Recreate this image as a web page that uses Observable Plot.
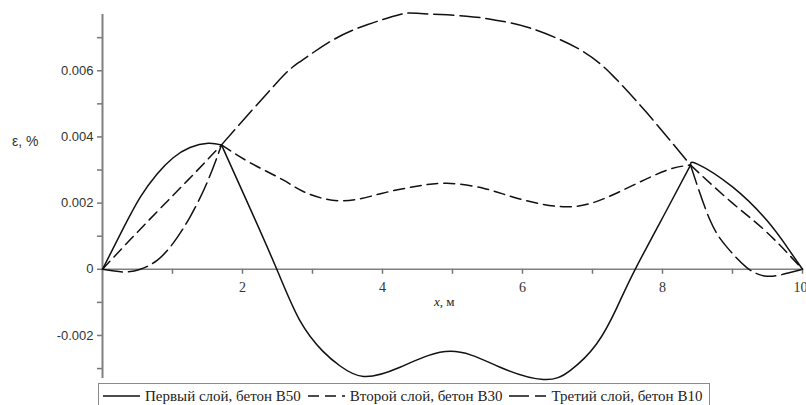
<!DOCTYPE html>
<html>
<head>
<meta charset="utf-8">
<script src="https://cdn.jsdelivr.net/npm/d3@7"></script>
<script src="https://cdn.jsdelivr.net/npm/@observablehq/plot@0.6"></script>
<style>
  html, body { margin: 0; padding: 0; background: #fff; }
  #wrap { position: relative; width: 806px; height: 405px; overflow: hidden; }
  #chart { position: absolute; left: 0; top: 0; }
  .ylab { position: absolute; left: 12px; top: 133px; font: 14px "Liberation Sans", Arial, sans-serif; color: #333; }
  .xlab { position: absolute; left: 434px; top: 294px; font: 13px "Liberation Serif", serif; color: #222; }
  .xlab i { font-style: italic; }
  #legend { position: absolute; left: 98px; top: 383px; width: 612px; height: 26px; border: 1px solid #8a8a8a; box-sizing: border-box;
            display: flex; align-items: center; font-family: "Liberation Serif", "Times New Roman", serif; font-size: 15px; color: #222; white-space: nowrap; }
  #legend .item { display: flex; align-items: center; margin-left: 4px; margin-right: 3px; }
  #legend svg { margin-right: 5px; }
  svg g[aria-label="y-axis tick"] path { stroke: #777; stroke-width: 1.5; }
  svg g[aria-label="y-axis tick label"] text { fill: #333; }
</style>
</head>
<body>
<div id="wrap">
  <div id="chart"></div>
  <div class="ylab">ε, %</div>
  <div class="xlab"><i>x</i>, м</div>
  <div id="legend"></div>
</div>
<script>
// ---- Data ----
const seriesNames = ["Первый слой, бетон B50", "Второй слой, бетон B30", "Третий слой, бетон B10"];

const s1x = [0, 0.3, 0.54, 0.78, 1.01, 1.25, 1.51, 1.7, 2.1, 2.49, 2.82, 3.15, 3.4, 3.73, 4.25, 4.97, 5.68, 6.3, 6.68, 7.06, 7.35, 7.61, 8.07, 8.4, 8.5, 9.0, 9.49, 9.78, 10];
const s1y = [0, 0.00125, 0.00218, 0.00288, 0.00337, 0.00368, 0.00381, 0.00376, 0.00188, 0, -0.00155, -0.00248, -0.00293, -0.00324, -0.00296, -0.00248, -0.00296, -0.00333, -0.00306, -0.00225, -0.00115, 0, 0.00183, 0.00315, 0.00318, 0.00249, 0.00148, 0.00067, 0];

const s2x = [0, 0.3, 0.78, 1.25, 1.7, 2.11, 2.58, 2.92, 3.44, 4.0, 4.49, 4.92, 5.44, 5.92, 6.58, 7.11, 7.59, 8.07, 8.4, 9.0, 9.49, 10];
const s2y = [0, 0.00068, 0.00174, 0.00276, 0.00376, 0.00322, 0.0027, 0.0023, 0.00207, 0.0023, 0.00251, 0.0026, 0.00245, 0.00215, 0.00189, 0.00209, 0.00255, 0.003, 0.00315, 0.002, 0.00112, 0];

const s3x = [0, 0.3, 0.54, 0.78, 1.01, 1.25, 1.49, 1.7, 2.49, 2.82, 3.3, 3.78, 4.25, 4.54, 5.2, 5.64, 6.11, 6.82, 7.3, 7.78, 8.4, 8.68, 8.92, 9.2, 9.49, 9.78, 10];
const s3y = [0, -0.00008, 0, 0.00027, 0.00079, 0.00158, 0.0026, 0.00376, 0.00564, 0.00627, 0.00694, 0.00739, 0.0077, 0.00773, 0.00765, 0.00752, 0.00729, 0.00664, 0.00583, 0.00472, 0.00315, 0.00148, 0.00067, 0.00006, -0.00021, -0.00012, 0];

// knots where the layers join (curves have corners there)
const knots = [1.7, 8.4];

const xMajor = [2, 4, 6, 8, 10];
const xMinor = [1, 3, 5, 7, 9];
const xTickLabels = ["2", "4", "6", "8", "10"];
const yMajor = [-0.002, 0, 0.002, 0.004, 0.006];
const yMinor = [-0.003, -0.001, 0.001, 0.003, 0.005, 0.007];
const yTickLabels = ["-0.002", "0", "0.002", "0.004", "0.006"];
const xDomain = [0, 10];
const yDomain = [-0.0033, 0.0077];

// ---- Build segment rows (split at knots, knot point shared) ----
function segments(xs, ys) {
  const rows = [];
  let seg = 0;
  xs.forEach((x, i) => {
    rows.push({x, y: ys[i], seg});
    if (knots.includes(x)) { seg++; rows.push({x, y: ys[i], seg}); }
  });
  return rows;
}
const r1 = segments(s1x, s1y);
const r2 = segments(s2x, s2y);
const r3 = segments(s3x, s3y);

const dashes = [null, "11,6", "20,6"];
const lastIdx = xMajor.length - 1;

const chart = Plot.plot({
  width: 806,
  height: 382,
  marginLeft: 102,
  marginRight: 4,
  marginTop: 14,
  marginBottom: 4,
  x: {domain: xDomain, axis: null},
  y: {domain: yDomain},
  style: {background: "transparent", fontFamily: "'Liberation Sans', Arial, sans-serif", fontSize: "13px"},
  marks: [
    Plot.axisY({ticks: yMajor, tickSize: 5, tickPadding: 4, label: null,
      tickFormat: d => yTickLabels[yMajor.indexOf(d)], fontSize: 13}),
    Plot.axisY({ticks: yMinor, tickSize: 5, tickFormat: () => "", label: null}),
    Plot.ruleX([0], {y1: yDomain[0], y2: yDomain[1], stroke: "#808080", strokeWidth: 2}),
    Plot.ruleY([0], {stroke: "#808080", strokeWidth: 1.6}),
    Plot.ruleX(xMajor.concat(xMinor), {x: d => d, y1: 0, y2: 0, insetBottom: -5, stroke: "#777", strokeWidth: 1.5}),
    Plot.text(xMajor.slice(0, lastIdx), {x: d => d, y: 0, dy: 18, text: (d, i) => xTickLabels[i],
      fontFamily: "'Liberation Serif', serif", fontSize: 14, fill: "#333"}),
    Plot.text([xMajor[lastIdx]], {x: d => d, y: 0, dy: 18, dx: 5, text: () => xTickLabels[lastIdx], textAnchor: "end",
      fontFamily: "'Liberation Serif', serif", fontSize: 14, fill: "#333"}),
    Plot.line(r1, {x: "x", y: "y", z: "seg", curve: "natural", stroke: "#111", strokeWidth: 1.5}),
    Plot.line(r2, {x: "x", y: "y", z: "seg", curve: "natural", stroke: "#111", strokeWidth: 1.5, strokeDasharray: dashes[1]}),
    Plot.line(r3, {x: "x", y: "y", z: "seg", curve: "natural", stroke: "#111", strokeWidth: 1.5, strokeDasharray: dashes[2]})
  ]
});
document.getElementById("chart").appendChild(chart);

// ---- Legend ----
const legend = document.getElementById("legend");
seriesNames.forEach((name, i) => {
  const item = document.createElement("div");
  item.className = "item";
  const d = dashes[i] ? `stroke-dasharray="${dashes[i]}"` : "";
  item.innerHTML = `<svg width="37" height="10"><line x1="0" y1="5" x2="37" y2="5" stroke="#111" stroke-width="1.5" ${d}/></svg><span>${name}</span>`;
  legend.appendChild(item);
});
</script>
</body>
</html>
